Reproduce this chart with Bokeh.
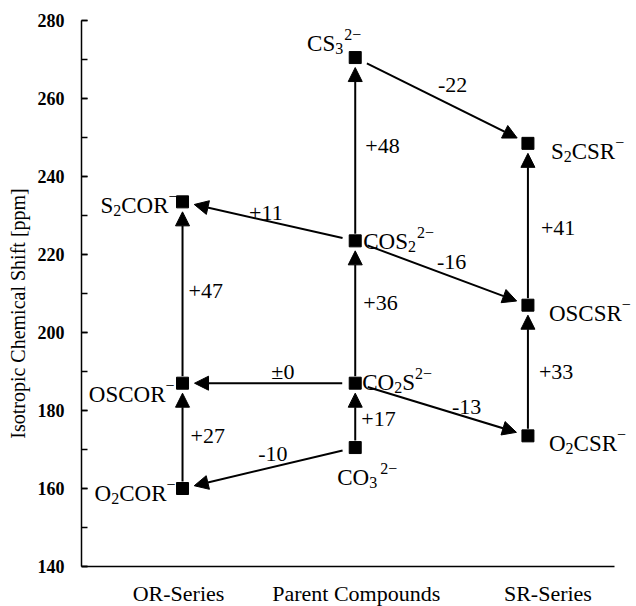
import math
from bokeh.plotting import figure
from bokeh.models import (ColumnDataSource, Range1d, Arrow, NormalHead,
                          SingleIntervalTicker, FixedTicker)
from bokeh.core.properties import value
from bokeh.embed import file_html
from bokeh.resources import INLINE

# ---------------- data ----------------
categories = ["OR-Series", "Parent Compounds", "SR-Series"]

or_names = ["O₂COR⁻", "OSCOR⁻", "S₂COR⁻"]
or_shift = [160, 187, 233.5]

parent_names = ["CO₃²⁻", "CO₂S²⁻", "COS₂²⁻", "CS₃²⁻"]
parent_shift = [170.5, 187, 223.5, 270.5]

sr_names = ["O₂CSR⁻", "OSCSR⁻", "S₂CSR⁻"]
sr_shift = [173.5, 207, 248.5]

# connections: (from, to, label)
edges_from = ["P0", "P1", "P2", "O0", "O1", "S0", "S1", "P0", "P1", "P2", "P1", "P2", "P3"]
edges_to   = ["P1", "P2", "P3", "O1", "O2", "S1", "S2", "O0", "O1", "O2", "S0", "S1", "S2"]
edge_labels = ["+17", "+36", "+48", "+27", "+47", "+33", "+41",
               "-10", "±0", "+11", "-13", "-16", "-22"]

y_axis_min, y_axis_max, y_tick_step = 140, 280, 20

# ---------------- layout ----------------
FONT = "Liberation Serif"
W, H = 636, 606
BL, BT = 81, 20
PX_PER_PPM = 3.9
PX_PER_CAT = 172.7
X0 = 0.415
X1 = X0 + (W - BL) / PX_PER_CAT
Y1 = y_axis_max
Y0 = Y1 - (H - BT) / PX_PER_PPM
SX, SY = PX_PER_CAT, PX_PER_PPM

p = figure(width=W, height=H, x_range=Range1d(X0, X1), y_range=Range1d(Y0, Y1),
           output_backend="svg", toolbar_location=None,
           min_border_left=BL, min_border_right=0, min_border_top=BT,
           min_border_bottom=0)
p.grid.visible = False
p.outline_line_color = None
p.background_fill_color = "white"
p.border_fill_color = "white"

# nodes
nodes = {}
for i, (n, v) in enumerate(zip(or_names, or_shift)):
    nodes["O%d" % i] = (1, v, n)
for i, (n, v) in enumerate(zip(parent_names, parent_shift)):
    nodes["P%d" % i] = (2, v, n)
for i, (n, v) in enumerate(zip(sr_names, sr_shift)):
    nodes["S%d" % i] = (3, v, n)

# arrows
def shorten(x0, y0, x1, y1, g0, g1):
    dxp = (x1 - x0) * SX
    dyp = (y1 - y0) * SY
    L = math.hypot(dxp, dyp)
    ux, uy = dxp / L, dyp / L
    return (x0 + ux * g0 / SX, y0 + uy * g0 / SY,
            x1 - ux * g1 / SX, y1 - uy * g1 / SY)

xs, ys, xe, ye = [], [], [], []
for a, b in zip(edges_from, edges_to):
    x0, y0, _ = nodes[a]
    x1, y1, _ = nodes[b]
    diag = x0 != x1
    s = shorten(x0, y0, x1, y1, 13 if diag else 7, 12 if diag else 10)
    xs.append(s[0]); ys.append(s[1]); xe.append(s[2]); ye.append(s[3])

asrc = ColumnDataSource(dict(xs=xs, ys=ys, xe=xe, ye=ye))
p.add_layout(Arrow(x_start="xs", y_start="ys", x_end="xe", y_end="ye", source=asrc,
                   line_color="black", line_width=2,
                   end=NormalHead(size=14, fill_color="black", line_color="black",
                                  line_width=1)))

# squares
p.scatter(x=[v[0] for v in nodes.values()], y=[v[1] for v in nodes.values()],
          marker="square", size=12, color="black")

# ---- formula labels with sub/superscripts ----
BASE, SMALL = 23, 16
TIMES_W = {"C": .667, "O": .722, "S": .556, "R": .667, "2": .5, "3": .5,
           "−": .564, " ": .25}
SUB = {"₂": "2", "₃": "3"}
SUP = {"²": "2", "³": "3", "⁻": "−"}

def segments(name):
    segs = []
    for ch in name:
        if ch in SUB:
            kind, c = "sub", SUB[ch]
        elif ch in SUP:
            kind, c = "sup", SUP[ch]
        else:
            kind, c = "n", ch
        if segs and segs[-1][1] == kind:
            segs[-1][0] += c
        else:
            segs.append([c, kind])
    return segs

def seg_width(txt, kind):
    size = BASE if kind == "n" else SMALL
    return sum(TIMES_W.get(c, .5) for c in txt) * size

# (align, dx, baseline dy, gap before superscript) in pixels relative to the square
comp_style = {
    "O0": ("right", -7, 5, 0),
    "O1": ("right", -8, 11, 0),
    "O2": ("right", -5, 4, 0),
    "P0": ("left", -18, 30, 3),
    "P1": ("left", 7, -1, 0),
    "P2": ("left", 8, 1, 1),
    "P3": ("right", 6, -14, 1),
    "S0": ("left", 21, 8, 0),
    "S1": ("left", 21, 8, 0),
    "S2": ("left", 23, 8, 0),
}
shift = {"n": 0, "sub": 5, "sup": -9}
lx, ly, lt, lxo, lyo, lsz = [], [], [], [], [], []
for k, (x, y, n) in nodes.items():
    al, dx, dy, gap = comp_style[k]
    segs = segments(n)
    total = sum(seg_width(t, kd) for t, kd in segs) + gap
    cur = dx if al == "left" else dx - total
    for t, kd in segs:
        if kd == "sup":
            cur += gap
        lx.append(x); ly.append(y); lt.append(t)
        lxo.append(cur); lyo.append(dy + shift[kd])
        lsz.append("%dpx" % (BASE if kd == "n" else SMALL))
        cur += seg_width(t, kd)

lsrc = ColumnDataSource(dict(x=lx, y=ly, text=lt, xo=lxo, yo=lyo, sz=lsz))
p.text(x="x", y="y", text="text", x_offset="xo", y_offset="yo", source=lsrc,
       text_font_size="sz", text_align="left", text_baseline="alphabetic",
       text_font=value(FONT), text_color="black")

# ---- difference labels ----
diff_style = [("left", 6, 4), ("left", 8, -9), ("left", 10, -3), ("left", 8, 0),
              ("left", 6, -2), ("left", 11, 1), ("left", 13, 4),
              ("center", 4, -14), ("center", 14, -12), ("center", -3, -8),
              ("center", 25, -3), ("center", 10, -11), ("center", 11, -15)]
groups = {}
for a, b, t, (al, dx, dy) in zip(edges_from, edges_to, edge_labels, diff_style):
    x0, y0, _ = nodes[a]
    x1, y1, _ = nodes[b]
    g = groups.setdefault(al, dict(x=[], y=[], text=[], xo=[], yo=[]))
    g["x"].append((x0 + x1) / 2); g["y"].append((y0 + y1) / 2)
    g["text"].append(t); g["xo"].append(dx); g["yo"].append(dy)
for al, g in groups.items():
    p.text(x="x", y="y", text="text", x_offset="xo", y_offset="yo",
           source=ColumnDataSource(g), text_align=al, text_baseline="middle",
           text_font=value(FONT), text_font_size="22px", text_color="black")

# ---------------- axes ----------------
ya = p.yaxis[0]
ya.bounds = (y_axis_min, y_axis_max)
ya.ticker = SingleIntervalTicker(interval=y_tick_step, num_minor_ticks=2)
ya.major_tick_in = 6
ya.major_tick_out = 0
ya.minor_tick_in = 6
ya.minor_tick_out = 0
ya.axis_line_width = 1.5
ya.major_tick_line_width = 1.5
ya.minor_tick_line_width = 1.5
ya.major_label_standoff = 17
ya.major_label_text_font = FONT
ya.major_label_text_font_size = "18px"
ya.major_label_text_font_style = "bold"
ya.major_label_text_color = "black"
ya.axis_label = "Isotropic Chemical Shift [ppm]"
ya.axis_label_text_font = FONT
ya.axis_label_text_font_size = "20px"
ya.axis_label_text_font_style = "normal"
ya.axis_label_text_color = "black"
ya.axis_label_standoff = 6

# category label positions (category index plus a small pixel nudge)
cat_nudge_px = [-4, 1, 20]
cat_ticks = [i + 1 + d / SX for i, d in enumerate(cat_nudge_px)]

xa = p.xaxis[0]
xa.fixed_location = y_axis_min
xa.bounds = (X0, 3.5)
xa.ticker = FixedTicker(ticks=cat_ticks)
xa.major_label_overrides = {t: c for t, c in zip(cat_ticks, categories)}
xa.major_tick_in = 0
xa.major_tick_out = 0
xa.minor_tick_in = 0
xa.minor_tick_out = 0
xa.axis_line_width = 1.5
xa.major_label_standoff = 14
xa.major_label_text_font = FONT
xa.major_label_text_font_size = "22px"
xa.major_label_text_color = "black"

open("out.html", "w").write(file_html(p, INLINE))
